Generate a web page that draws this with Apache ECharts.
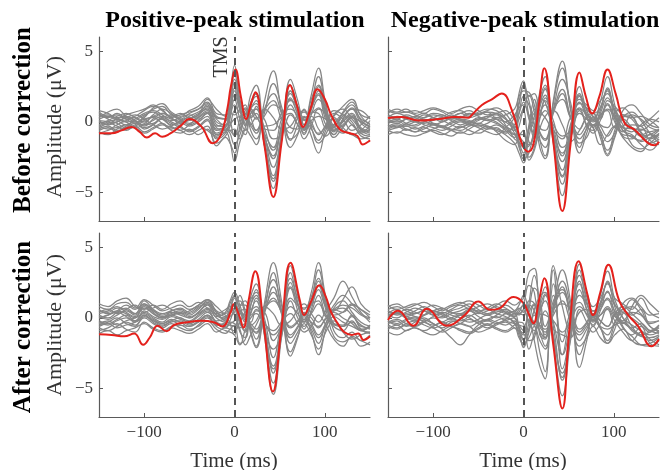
<!DOCTYPE html>
<html><head><meta charset="utf-8">
<script src="https://cdn.jsdelivr.net/npm/echarts@6/dist/echarts.min.js"></script>
<style>html,body{margin:0;padding:0;background:#fff}#c{width:662px;height:470px}</style>
</head><body><div id="c"></div>
<script>
// shared time grid for the individual (gray) traces, ms
const times = [-150,-140,-130,-120,-110,-100,-90,-80,-70,-60,-50,-40,-30,-20,-10,-5,0,6,12,18,24,33,43,52,62,70,77,85,93,101,110,120,130,140,150];

// ---- Before correction, positive-peak stimulation (gray traces)
const grayTL = [
[0.5,0.3,0.6,0.2,-0.1,0.4,0.9,1.1,0.5,0.2,0.6,0.9,1.4,0.3,0.2,1.8, 4.0,1.6,0.4,1.9,2.6,-1.4,-4.7,-1.3,3.0,1.5,-0.2,1.9,3.8,1.3,-0.4,0.6,1.2,0.1,-0.3],
[-0.3,-0.5,-0.2,0.1,0.3,-0.1,0.4,0.2,-0.3,-0.6,-0.2,0.3,0.8,-0.4,-0.6,1.0, 3.5,1.2,-0.1,1.3,2.0,-1.6,-4.2,-0.8,2.6,1.0,-0.6,1.2,3.2,1.1,-0.7,0.0,0.5,-0.6,-0.9],
[0.8,0.6,0.3,0.5,0.7,0.9,1.2,0.8,0.4,0.6,0.3,0.5,1.6,0.9,0.4,1.6, 3.0,1.4,0.5,1.0,1.5,-1.2,-3.8,-0.9,2.2,0.8,-0.5,1.6,2.6,0.6,-0.9,0.2,1.0,0.2,-0.1],
[-0.6,-0.4,-0.7,-0.3,0.0,-0.5,-0.2,0.3,0.0,-0.3,-0.7,-0.4,0.1,-1.2,-0.8,0.2, 2.4,0.8,-0.3,1.2,1.8,-0.8,-3.2,-1.1,1.7,0.5,-0.8,0.9,2.0,0.4,-1.1,-0.4,0.3,-0.8,-1.0],
[0.2,0.4,0.1,-0.2,0.2,0.6,0.8,0.5,0.1,0.3,0.5,0.2,0.6,-0.3,0.0,0.9, 2.2,1.1,0.6,0.4,1.1,-1.0,-2.6,-0.2,2.0,0.9,0.1,1.0,1.9,0.2,-0.2,0.7,1.4,0.5,0.3],
[-0.2,0.1,0.4,0.6,0.3,0.0,0.5,0.9,0.6,0.1,-0.1,0.4,1.0,0.2,-0.3,0.5, 1.6,0.2,-0.6,0.9,1.3,-0.4,-2.0,-0.6,1.2,0.2,-0.9,0.5,1.6,0.8,-0.6,-0.2,0.4,-0.5,-0.7],
[0.6,0.2,-0.1,-0.4,-0.2,0.2,0.3,-0.1,-0.5,-0.2,0.2,0.6,0.9,-0.6,-0.4,0.4, 1.2,0.7,0.9,0.3,0.6,-0.8,-1.8,0.2,1.5,1.1,0.3,0.6,1.0,-0.2,-0.9,0.2,0.9,0.8,0.2],
[-0.8,-0.6,-0.4,-0.6,-0.3,-0.7,-0.4,-0.1,-0.6,-0.8,-0.5,-0.9,-0.5,-1.5,-1.0,-0.3, 0.8,-0.3,-0.9,0.6,0.9,0.2,-1.2,-0.9,0.5,-0.2,-1.2,-0.3,0.9,0.6,-0.3,-0.8,-0.2,-1.0,-1.2],
[0.3,0.7,0.9,0.4,0.0,0.3,1.0,1.3,0.7,0.4,0.8,1.1,1.7,0.6,0.5,0.6, 0.5,0.9,1.2,-0.2,0.3,-0.5,-0.6,0.6,0.9,0.4,-0.4,0.7,0.6,-0.4,0.4,1.1,1.6,0.4,-0.2],
[0.0,-0.2,0.2,0.0,-0.4,-0.2,0.1,0.4,0.2,0.0,-0.3,0.0,0.4,-0.8,-0.6,-0.6, -0.5,-1.2,-0.4,0.8,0.2,0.9,0.3,-0.5,-0.3,0.5,0.8,-0.2,-0.8,-0.3,0.6,0.2,-0.6,-0.2,0.4],
[-0.4,-0.1,0.0,0.3,0.5,0.2,-0.2,-0.5,-0.3,0.1,0.3,-0.2,-0.6,-1.0,-0.5,-0.6, -1.0,0.2,1.0,0.3,-0.6,0.4,1.2,0.8,-0.4,-0.5,0.3,0.4,-0.5,-1.0,-0.2,0.5,0.0,-0.8,-0.5],
[0.4,0.5,0.2,0.0,0.1,0.5,0.7,0.3,-0.2,0.0,0.4,0.7,1.1,-0.2,-0.4,-0.8, -1.6,-0.9,0.1,-0.3,-0.8,0.9,2.0,0.6,-1.2,-0.8,0.2,-0.5,-1.3,-0.4,0.3,-0.4,-0.9,-0.6,0.1],
[-0.7,-0.9,-0.5,-0.2,-0.4,-0.8,-0.5,-0.2,-0.4,-0.6,-0.9,-0.6,-0.3,-1.7,-1.1,-1.5, -2.2,-0.3,0.8,-0.6,-1.2,0.6,2.7,1.1,-1.3,-0.2,0.9,-0.4,-1.5,-0.9,0.5,0.9,0.2,-0.5,-0.8],
[0.1,0.0,-0.3,-0.5,-0.3,0.1,0.4,0.6,0.3,-0.1,0.1,0.3,0.7,-0.9,-0.7,-1.4, -2.8,-1.4,-0.5,-1.0,-1.6,1.4,3.6,0.7,-1.8,-0.9,0.4,-1.0,-2.2,-0.6,0.2,-0.6,-0.9,-1.2,-1.0],
[0.1,-0.2,0.0,0.3,0.1,-0.3,0.2,0.6,0.3,-0.1,0.2,0.5,1.2,0.0,-0.2,1.1, 2.8,1.0,-0.2,1.4,2.0,-1.6,-4.0,-1.4,2.2,1.0,-0.6,1.1,2.5,0.9,-0.6,0.1,0.6,-0.4,-0.6],
[-0.5,-0.3,-0.6,-0.4,-0.1,-0.4,-0.2,0.2,-0.1,-0.4,-0.6,-0.3,0.2,-1.1,-0.7,-0.2, 0.2,0.4,0.6,0.9,0.4,-0.3,-0.2,0.3,0.6,-0.2,-0.5,0.1,0.4,0.2,-0.5,-0.3,0.3,0.0,-0.4],
[0.7,0.4,0.5,0.2,0.4,0.8,1.1,0.9,0.3,0.5,0.7,0.9,1.3,0.4,0.2,0.0, -0.9,-0.6,0.4,-0.1,-0.6,0.8,1.5,0.2,-0.8,0.3,0.7,0.0,-0.9,-0.2,0.8,0.5,-0.2,-0.7,-0.3],
[-0.3,0.0,0.2,0.4,0.1,-0.2,-0.1,0.3,0.5,0.2,-0.2,0.1,0.6,-0.5,-0.3,0.8, 1.9,0.9,0.2,0.6,0.9,-1.0,-2.4,-0.4,1.6,0.6,-0.2,0.9,2.2,0.5,-0.3,0.4,0.9,-0.1,-0.5]
];
// ---- Before correction, negative-peak stimulation
const grayTR = [
[0.5,0.3,0.4,0.2,0.5,0.3,0.0,0.3,0.6,0.4,0.7,0.9,0.8,0.3,-0.8,-1.6, -2.6,-2.2,-0.3,2.1,3.2,-1.3,-5.2,-1.4,2.5,0.8,0.1,1.4,3.2,1.2,-0.6,-0.9,-1.4,-1.1,-0.9],
[-0.2,-0.4,-0.1,0.1,-0.2,-0.4,-0.6,-0.3,0.0,-0.2,0.1,0.4,0.5,-0.2,-1.2,-1.4, -1.8,-1.7,-0.6,1.6,2.6,-1.5,-4.4,-0.7,2.0,0.9,0.6,1.0,2.4,0.6,-0.7,-0.2,-0.3,-1.3,-1.6],
[0.8,0.6,0.7,0.5,0.3,0.5,0.4,0.7,0.8,0.5,0.6,0.8,1.0,0.6,-0.2,1.2, 2.6,0.4,-0.9,1.2,2.3,-0.9,-3.9,-1.2,1.8,0.4,-0.3,0.8,2.2,0.9,0.1,-0.4,-0.6,-0.2,0.3],
[0.0,0.2,-0.1,-0.3,0.0,0.2,0.1,-0.2,-0.4,-0.1,0.3,0.2,0.0,-0.5,-0.9,-0.3, 0.8,-1.4,-1.6,1.0,1.9,-1.2,-3.4,-0.4,1.6,1.2,0.8,1.5,2.0,0.2,-1.0,-1.2,-0.5,-0.8,-1.3],
[-0.5,-0.3,-0.6,-0.4,-0.7,-0.5,-0.3,-0.6,-0.8,-0.5,-0.2,-0.4,-0.6,-0.9,-1.5,-2.2, -2.9,-1.0,0.4,1.6,1.4,-0.8,-2.8,-0.9,1.4,0.3,-0.4,0.6,1.7,0.8,-0.2,-1.6,-1.9,-1.5,-0.9],
[0.3,0.6,0.4,0.1,0.3,0.6,0.5,0.2,0.3,0.6,0.4,0.1,0.3,0.0,-0.4,0.6, 1.8,1.2,0.2,0.6,1.7,-0.4,-2.4,-0.2,1.3,1.0,0.4,0.2,1.5,1.1,0.5,0.3,0.4,0.1,-0.4],
[-0.6,-0.8,-0.5,-0.7,-0.4,-0.7,-0.9,-0.6,-0.3,-0.6,-0.8,-0.5,-0.2,-0.6,-1.1,-0.9, -0.9,-2.5,-1.8,0.2,1.5,0.1,-1.8,-1.1,0.8,-0.2,-0.8,0.1,1.2,0.0,-0.9,-1.0,-1.6,-2.0,-1.4],
[0.2,0.0,0.2,0.4,0.6,0.3,0.2,0.5,0.2,0.0,-0.1,0.3,0.6,0.8,0.2,2.0, 2.9,1.8,2.0,0.8,0.3,-0.6,-1.2,0.3,0.9,-0.3,-0.6,0.5,0.8,-0.4,-0.3,0.5,0.2,-0.4,-0.6],
[-0.9,-0.7,-0.9,-1.0,-0.8,-0.6,-0.8,-1.0,-0.7,-0.9,-0.6,-0.3,-0.7,-1.3,-1.6,-1.0, -0.6,-2.7,-2.0,-0.5,0.4,0.8,-0.2,-1.4,-0.6,0.2,-0.4,-1.6,-0.9,-0.3,-1.1,-1.8,-2.1,-1.2,-0.6],
[0.6,0.9,0.7,0.8,0.6,0.9,0.7,0.4,0.6,0.8,0.5,0.7,0.3,0.5,0.9,1.8, 2.2,2.1,1.2,-0.4,-0.6,0.9,1.6,0.3,-0.5,0.4,0.6,-0.2,-0.4,0.6,1.0,0.4,-0.3,0.2,0.8],
[-0.1,0.1,-0.2,0.0,0.2,-0.1,-0.3,0.0,0.2,0.1,-0.2,-0.5,-0.4,-0.8,-0.3,-1.4, -2.2,-0.6,0.9,-0.7,-1.2,0.8,2.3,0.4,-1.2,-0.5,0.2,-0.6,-1.4,-0.8,0.4,0.2,-0.8,-1.5,-1.2],
[-0.4,-0.2,-0.5,-0.7,-0.5,-0.2,-0.4,-0.6,-0.4,-0.2,-0.4,-0.7,-0.9,-0.4,0.3,1.4, 2.6,1.5,-0.3,-1.3,-1.8,0.9,3.0,1.4,-1.5,-1.1,-0.2,-0.9,-2.0,-1.0,0.3,0.7,0.1,-0.8,-1.5],
[0.9,0.7,0.9,0.6,0.8,1.0,0.8,0.6,0.9,1.1,0.8,0.5,0.6,0.2,-0.4,-1.8, -2.4,-0.2,1.6,-1.2,-2.4,1.3,3.8,1.0,-1.8,-0.4,0.6,-0.7,-2.3,-0.6,0.8,1.2,0.6,-0.2,-0.4],
[0.1,-0.1,0.2,0.4,0.1,-0.2,0.0,0.3,0.1,-0.1,0.2,0.4,0.2,-0.3,-0.6,0.2, 1.0,1.9,0.7,-1.8,-2.6,1.5,4.3,0.9,-2.2,-0.8,0.4,-1.1,-2.4,-1.1,0.5,0.4,-0.7,-1.2,-0.8],
[0.4,0.2,0.5,0.3,0.1,0.3,0.5,0.2,0.4,0.3,0.5,0.7,0.6,0.2,-0.5,-1.0, -1.4,-1.6,-0.8,1.3,2.4,-1.2,-3.8,-0.9,1.9,0.6,0.2,1.0,2.3,0.8,-0.4,-0.5,-0.9,-0.7,-0.6],
[-0.3,-0.1,-0.3,-0.2,0.0,-0.2,-0.4,-0.1,0.1,-0.1,-0.3,-0.1,0.2,0.0,0.5,1.0, 1.2,0.5,-0.4,0.3,0.8,-0.2,-1.0,-0.6,0.6,0.2,-0.2,0.3,0.9,0.4,-0.4,-0.7,-0.2,0.2,0.0],
[0.2,0.4,0.2,0.0,-0.1,0.1,0.3,0.1,-0.2,0.0,0.2,0.1,-0.1,-0.4,-0.9,-1.2, -1.6,-0.4,0.6,-0.8,-1.3,0.6,2.0,0.3,-0.9,-0.2,0.3,-0.3,-1.0,-0.3,0.2,-0.4,-1.0,-0.9,-0.5],
[-0.6,-0.4,-0.3,-0.5,-0.3,-0.1,-0.3,-0.5,-0.6,-0.3,-0.1,-0.3,-0.5,-0.7,-0.2,0.6, 1.4,0.2,-1.2,0.6,1.2,-0.8,-2.2,-0.9,1.0,0.5,0.0,0.4,1.3,0.3,-0.6,-1.1,-1.3,-0.9,-1.1]
];
// ---- After correction, positive-peak stimulation
const grayBL = [
[0.2,0.0,0.4,0.7,0.3,1.2,0.6,0.1,0.3,0.5,0.2,0.6,1.2,0.4,-0.2,0.6, 1.4,-0.3,-0.9,1.5,2.4,-1.2,-5.4,-1.3,3.7,1.6,0.2,1.8,3.9,1.5,-0.4,-0.6,0.2,-0.8,-1.1],
[-0.5,-0.3,0.0,-0.4,-0.6,0.2,-0.3,-0.6,-0.2,0.0,-0.4,-0.1,0.4,-0.3,-0.7,-0.2, 0.6,-1.0,-1.4,0.9,2.0,-0.9,-4.6,-1.1,3.2,1.1,-0.3,1.2,3.4,1.2,-0.9,-1.4,-1.0,-1.6,-1.2],
[0.8,0.6,1.0,1.1,0.7,1.3,0.9,0.5,0.7,0.9,0.6,0.9,1.3,0.8,0.3,1.0, 1.6,0.6,0.2,1.3,1.8,-0.4,-3.9,-0.4,2.8,1.4,0.6,1.5,2.8,1.1,0.2,0.4,1.0,0.6,0.2],
[-0.9,-0.7,-0.4,-0.8,-1.0,-0.3,-0.7,-0.9,-0.6,-0.5,-0.8,-0.6,-0.2,-0.8,-1.1,-0.8, -0.5,-1.8,-1.5,0.4,1.2,-1.1,-3.6,-1.4,2.1,0.5,-0.8,0.6,2.3,0.6,-1.3,-1.7,-1.4,-2.0,-1.7],
[0.3,0.5,0.8,0.4,0.1,0.7,0.3,0.0,0.5,0.7,0.4,0.8,1.0,0.2,0.0,0.4, 0.9,0.4,-0.3,0.3,1.4,0.0,-2.8,-0.2,2.2,1.0,0.2,0.9,2.0,0.8,0.5,1.3,2.2,1.0,0.4],
[-0.2,-0.4,-0.1,0.2,-0.2,0.4,0.0,-0.3,0.1,-0.1,-0.3,0.1,0.5,-0.4,-0.6,-0.5, -0.6,0.8,1.2,0.6,0.8,-0.8,-2.2,-1.2,1.2,0.0,-0.6,0.4,1.6,0.2,-0.6,-0.9,-0.2,-0.9,-0.5],
[0.6,0.3,0.5,0.9,0.6,1.0,0.5,0.2,0.4,0.2,0.0,0.4,0.9,0.1,0.4,1.2, 1.8,0.9,-0.2,-0.3,0.5,0.4,-1.6,-0.6,1.4,0.9,0.7,1.0,1.2,0.1,0.9,1.6,1.0,0.3,0.0],
[-0.7,-0.9,-0.6,-0.3,-0.5,0.0,-0.4,-0.7,-0.4,-0.7,-0.9,-0.5,0.0,-0.6,-0.9,-1.0, -1.2,-1.9,-0.8,0.0,0.3,-0.4,-0.9,-0.3,0.3,-0.4,-1.0,-0.6,0.2,-0.5,-1.5,-2.0,-1.3,-1.6,-1.9],
[0.0,0.2,0.4,0.1,-0.2,0.5,0.1,-0.1,0.2,0.4,0.1,0.3,0.7,0.0,-0.3,0.1, 0.4,1.6,0.5,-0.5,-0.2,0.8,0.3,-0.5,-0.2,0.6,1.0,0.3,-0.3,0.5,1.4,2.6,1.5,0.4,-0.3],
[1.0,0.8,1.2,1.4,0.8,0.6,0.9,0.6,1.0,1.2,0.8,1.1,0.7,0.3,0.6,0.8, 0.2,-0.8,-1.9,-1.2,-0.5,0.6,1.2,0.5,-0.6,-0.2,0.4,-0.3,-0.6,-0.1,0.4,0.0,-0.4,-0.9,-0.6],
[-0.4,-0.2,-0.5,-0.2,0.0,0.3,-0.1,-0.4,-0.2,-0.5,-0.6,-0.2,0.2,-0.5,-0.3,0.4, 1.0,1.2,0.2,-0.7,-1.0,0.5,1.8,0.6,-1.2,-0.6,0.2,-0.4,-1.2,-0.4,0.5,0.7,0.2,-0.5,-0.8],
[0.4,0.6,0.3,0.6,0.9,0.4,0.7,0.9,0.6,0.3,0.5,0.9,1.3,0.5,0.2,-0.4, -1.2,0.4,0.6,-0.6,-1.5,0.8,2.7,0.9,-1.8,-1.0,-0.2,-0.8,-1.8,-0.4,0.6,0.4,0.9,0.6,0.0],
[-1.1,-0.9,-1.2,-0.9,-0.7,-0.4,-0.8,-1.0,-0.7,-0.9,-1.1,-0.8,-0.4,-1.0,-0.7,-0.8, -0.9,-0.3,0.4,-1.1,-2.1,0.4,3.2,0.4,-2.4,-1.3,-0.4,-1.2,-2.2,-1.0,-0.2,-1.0,-1.5,-1.2,-1.0],
[0.1,-0.1,0.2,0.5,0.2,0.8,0.3,0.0,0.2,0.0,-0.2,0.2,0.6,-0.2,0.0,0.6, 1.5,0.9,0.9,-0.9,-2.0,1.0,3.9,1.2,-2.7,-1.4,0.1,-1.0,-2.6,-0.8,0.7,1.2,0.4,-0.3,-0.6],
[0.0,0.2,0.5,0.3,0.0,0.9,0.4,0.0,0.2,0.3,0.0,0.4,1.0,0.2,-0.1,0.3, 0.7,-0.4,-1.0,0.9,1.6,-0.8,-3.4,-0.9,2.5,0.9,-0.1,1.0,2.6,0.9,-0.4,-0.5,0.1,-0.6,-0.7],
[-0.3,-0.5,-0.2,0.0,-0.3,0.1,-0.2,-0.5,-0.3,-0.2,-0.5,-0.3,0.2,-0.3,-0.5,-0.4, -0.2,0.3,0.2,0.2,0.6,-0.3,-1.2,-0.5,0.8,0.3,-0.3,0.3,1.0,0.2,-0.5,-0.6,-0.3,-0.8,-0.7],
[0.5,0.4,0.7,0.6,0.3,1.0,0.6,0.3,0.5,0.6,0.3,0.7,1.1,0.4,0.1,0.6, 0.9,0.5,0.0,-0.4,-0.8,0.5,1.4,0.4,-0.7,-0.3,0.3,0.0,-0.7,0.0,0.6,0.9,0.7,0.2,-0.1],
[-0.6,-0.4,-0.7,-0.5,-0.3,0.2,-0.2,-0.4,-0.1,-0.3,-0.6,-0.3,0.1,-0.5,-0.4,-0.3, -0.4,-0.7,-0.4,-0.6,-1.1,0.3,2.2,0.3,-1.4,-0.7,-0.1,-0.6,-1.4,-0.6,0.1,-0.3,-0.6,-0.9,-1.0]
];
// ---- After correction, negative-peak stimulation
const grayBR = [
[0.3,0.6,0.2,0.5,0.8,0.4,0.1,0.5,0.7,1.0,0.6,0.3,0.6,0.9,0.5,0.2, 0.6,-0.4,-0.9,1.0,2.2,-1.6,-5.5,-1.4,3.4,1.2,0.0,1.6,3.3,1.3,0.0,-0.8,-1.2,-1.6,-1.3],
[-0.4,-0.2,-0.6,-0.3,0.0,-0.4,-0.7,-0.3,-0.1,0.2,-0.2,-0.5,-0.2,0.0,-0.4,-1.2, -2.0,-0.8,0.6,1.5,1.8,-0.6,-4.4,-0.6,3.0,1.5,0.5,1.0,2.6,0.8,-0.6,-1.2,-0.6,-1.8,-2.0],
[0.8,1.0,0.7,0.9,1.1,0.8,0.5,0.8,1.0,1.2,0.9,0.6,0.9,1.2,0.9,1.1, 1.4,3.2,3.5,0.2,-1.2,2.4,-3.6,-0.8,3.8,1.8,0.8,1.4,2.4,1.4,1.0,0.6,1.4,0.4,0.0],
[-0.8,-0.5,-0.9,-0.6,-0.3,-0.7,-1.0,-0.7,-0.4,-0.6,-1.0,-0.8,-0.5,-0.3,-0.7,-0.9, -1.1,-1.6,-1.4,0.4,1.2,-1.4,-3.9,-1.6,2.0,0.6,-0.6,0.5,1.9,0.4,-0.7,-1.3,-1.9,-2.0,-1.6],
[0.1,0.3,0.0,-0.2,0.2,0.5,0.2,-0.1,0.2,0.5,0.1,-0.2,0.2,0.5,0.1,0.4, 0.9,0.2,-0.4,-2.4,-3.8,3.4,-2.6,0.2,2.4,0.6,-0.3,0.9,1.8,0.9,0.4,0.0,-0.5,-1.0,-0.7],
[-0.2,-0.5,-0.2,0.1,-0.1,-0.4,-0.8,-1.4,-1.9,-1.2,-0.5,-0.2,-0.4,-0.1,0.3,-0.6, -1.5,-0.4,0.9,0.6,1.6,-0.3,-2.6,-0.6,1.6,1.0,0.3,0.6,1.4,0.5,-0.2,0.4,0.2,-0.6,-1.0],
[0.5,0.2,0.4,0.7,0.5,0.2,0.3,0.6,0.9,0.6,0.3,0.5,0.8,0.4,0.2,0.6, 1.0,2.3,1.8,-1.2,-1.5,1.6,-1.7,0.4,1.1,0.2,-0.5,0.8,1.3,0.2,-0.4,0.8,1.6,1.0,0.4],
[-0.6,-0.8,-0.5,-0.7,-0.9,-0.6,-0.3,-0.6,-0.8,-1.0,-0.7,-0.4,-0.7,-0.9,-0.5,-0.3, -0.4,-2.2,-1.1,-0.4,0.5,-0.8,-1.2,-1.4,0.6,-0.3,-1.0,-0.4,0.7,-0.2,-1.0,-1.6,-1.0,-1.5,-1.9],
[0.2,0.0,0.3,0.1,-0.2,0.1,0.4,0.2,0.0,-0.3,-0.1,0.2,0.0,0.3,0.5,0.9, 1.6,0.3,-1.6,-3.4,-4.3,3.7,0.8,-0.8,0.4,0.6,-0.2,0.2,0.6,-0.5,0.3,1.3,0.6,-0.4,-0.2],
[0.6,0.8,0.5,0.3,0.6,0.9,0.7,0.4,0.2,0.5,0.8,1.0,0.7,0.4,0.0,-0.5, -0.9,0.6,2.1,1.4,-0.6,0.6,1.0,0.6,-0.8,-0.3,0.5,-0.2,-0.6,0.3,0.8,0.3,-0.3,-0.9,-0.5],
[-0.3,-0.1,-0.4,-0.6,-0.3,0.0,-0.3,-0.6,-0.4,-0.1,-0.4,-0.7,-0.4,-0.2,0.0,-0.8, -2.1,-1.0,0.4,-0.9,-1.4,1.2,2.0,0.5,-1.6,-0.8,0.0,-0.7,-1.2,-0.3,0.4,-0.6,-1.2,-1.0,-0.6],
[0.0,0.3,0.1,-0.1,0.2,0.5,0.3,0.0,-0.2,0.1,0.4,0.6,0.3,0.1,-0.3,-1.0, -1.6,1.0,3.0,1.1,-1.4,0.8,2.6,0.8,-2.6,-1.2,0.1,-0.7,-1.6,-0.4,1.0,1.4,0.8,0.2,0.3],
[0.9,0.6,0.8,1.0,0.7,0.4,0.6,0.9,1.1,0.8,0.5,0.7,1.0,0.7,0.4,0.7, 0.4,0.9,0.5,-1.0,-2.0,0.9,3.4,1.2,-3.5,-1.6,0.3,-0.6,-1.8,-0.8,0.6,0.2,0.6,-0.6,-0.9],
[-1.0,-1.2,-0.9,-0.7,-1.0,-1.2,-0.9,-0.6,-0.9,-1.1,-0.8,-0.5,-0.8,-1.0,-0.7,-1.4, -1.8,-1.4,-0.6,-1.6,-2.2,0.4,2.2,0.0,-2.0,-1.4,-0.6,-1.4,-1.8,-1.2,-0.8,-1.6,-1.9,-1.8,-1.4],
[0.2,0.4,0.1,0.3,0.5,0.2,0.0,0.3,0.5,0.7,0.4,0.2,0.4,0.6,0.3,0.3, 0.5,-0.2,-0.5,0.8,1.7,-1.2,-4.2,-1.0,2.6,1.0,0.1,1.1,2.5,1.0,0.0,-0.5,-0.9,-1.2,-1.0],
[-0.2,-0.4,-0.1,0.0,-0.3,-0.5,-0.3,0.0,0.2,0.0,-0.3,-0.1,0.1,-0.2,-0.4,-0.5, -0.6,0.4,1.0,0.3,0.2,-0.2,-1.0,-0.2,0.8,0.3,-0.2,0.2,0.8,0.1,-0.3,-0.7,-0.4,-0.9,-1.1],
[0.5,0.3,0.6,0.4,0.2,0.5,0.7,0.4,0.3,0.6,0.4,0.2,0.5,0.3,0.1,0.3, 0.2,1.2,1.0,-0.6,-1.0,0.7,1.8,0.5,-1.0,-0.4,0.2,-0.2,-0.6,0.2,0.6,0.8,0.3,-0.3,-0.2],
[-0.5,-0.7,-0.4,-0.2,-0.5,-0.7,-0.5,-0.2,-0.4,-0.6,-0.3,-0.1,-0.3,-0.5,-0.2,-0.7, -1.2,-0.8,0.2,-0.5,-0.8,0.2,1.2,-0.2,-1.2,-0.6,-0.1,-0.6,-0.8,-0.5,-0.3,-0.9,-1.3,-1.4,-1.2]
];

// ---- red (average) traces: times and amplitudes
const redTL_t = [-150,-136,-125,-114,-105,-97,-88,-80,-72,-60,-50,-37,-24,-15,-8,-4,1,7,13,18,23,33,43,52,61.5,69,76,84,92,100,107,117,128,136,142,148,150];
const redTL_v = [-0.8,-0.8,-0.6,-0.35,-0.7,-1.1,-0.8,-1.05,-0.85,-0.3,0.2,-0.3,-1.5,-0.9,0.9,2.5,3.7,1.8,0.2,1.2,2.1,-1.6,-5.3,-1.5,2.6,1.2,-0.35,0.9,2.3,1.6,0.5,-0.55,-0.8,-1.0,-1.6,-1.4,-1.3];
const redTR_t = [-150,-135,-116,-94,-76,-61,-57,-46,-35,-24,-13,-2,5,11,17,23,33,43,52,62,69,76,84,93,102,112,123,138,145,150];
const redTR_v = [0.28,0.35,0.1,0.2,0.35,0.3,0.5,1.2,1.6,2.0,0.85,-1.5,-2.1,-1.6,1.2,3.8,-1.4,-6.3,-1.6,3.5,1.8,0.6,1.8,3.7,2.0,-0.1,-0.56,-1.5,-1.65,-1.4];
const redBL_t = [-150,-136,-122,-111,-101,-94,-85,-75,-67,-52,-37,-23,-13.5,-4,-1,5,10,15.5,23,32,42.5,52,62,72.5,77,85,94,101,107,114,121,130,137,143,150];
const redBL_v = [-1.16,-1.2,-1.3,-1.1,-1.9,-1.4,-0.55,-0.95,-0.5,-0.3,-0.2,-0.3,-0.6,0.45,0.97,0.2,-0.68,1.2,3.3,-0.3,-5.2,-0.7,3.9,1.2,0.2,1.2,2.3,1.5,0.4,-0.37,-0.97,-1.2,-1.1,-1.56,-1.3];
const redBR_t = [-150,-139,-122,-107,-85,-65,-50,-37,-28,-11,0,5,11,17,23,33,43,51,61,71,77,85,94,106,116,127,142,150];
const redBR_v = [-0.14,0.5,-0.55,0.64,-0.55,0.2,1.16,0.57,0.64,1.47,1.04,0.4,-0.38,1.2,2.8,-1.9,-6.4,-0.7,4.0,1.6,0.2,1.8,3.76,1.2,0.2,-0.6,-2.0,-1.5];

const xTicks = [-100, 0, 100];
const yTicks = [-5, 0, 5];
const titles = ['Positive-peak stimulation', 'Negative-peak stimulation'];
const rowLabels = ['Before correction', 'After correction'];

const panels = [
  {left: 99, top: 37, gray: grayTL, rt: redTL_t, rv: redTL_v, ylab: true, xlab: false},
  {left: 388, top: 37, gray: grayTR, rt: redTR_t, rv: redTR_v, ylab: false, xlab: false},
  {left: 99, top: 233, gray: grayBL, rt: redBL_t, rv: redBL_v, ylab: true, xlab: true},
  {left: 388, top: 233, gray: grayBR, rt: redBR_t, rv: redBR_v, ylab: false, xlab: true}
];
const W = 271, H = 184;
const AX = '#5a5a5a';
const FONT = '"Liberation Serif", "Times New Roman", serif';
const minus = v => (v < 0 ? '\u2212' + Math.abs(v) : String(v));

const grid = [], xAxis = [], yAxis = [], series = [];
panels.forEach((p, i) => {
  grid.push({left: p.left, top: p.top, width: W, height: H, containLabel: false});
  xAxis.push({
    type: 'value', gridIndex: i, min: -150, max: 150,
    axisLine: {show: true, onZero: false, lineStyle: {color: AX, width: 1.2}},
    axisTick: {show: true, inside: true, length: 4, customValues: xTicks, lineStyle: {color: AX}},
    axisLabel: {show: p.xlab, customValues: xTicks, formatter: minus, fontFamily: FONT, fontSize: 17, color: '#3a3a3a', margin: 7},
    splitLine: {show: false}
  });
  yAxis.push({
    type: 'value', gridIndex: i, min: -7, max: 6,
    axisLine: {show: true, onZero: false, lineStyle: {color: AX, width: 1.2}},
    axisTick: {show: true, inside: true, length: 4, customValues: yTicks, lineStyle: {color: AX}},
    axisLabel: {show: p.ylab, customValues: yTicks, formatter: minus, fontFamily: FONT, fontSize: 17, color: '#3a3a3a', margin: 6},
    splitLine: {show: false}
  });
  p.gray.forEach(tr => {
    series.push({
      type: 'line', xAxisIndex: i, yAxisIndex: i, showSymbol: false, smooth: 0.45,
      data: times.map((t, k) => [t, tr[k]]), silent: true, z: 2,
      lineStyle: {color: '#868686', width: 1.25}
    });
  });
  series.push({
    type: 'line', xAxisIndex: i, yAxisIndex: i, data: [], z: 3, silent: true,
    markLine: {silent: true, symbol: 'none', label: {show: false}, animation: false,
      lineStyle: {color: '#555', type: [7, 5], width: 2}, data: [{xAxis: 0}]}
  });
  series.push({
    type: 'line', xAxisIndex: i, yAxisIndex: i, showSymbol: false, smooth: 0.45,
    data: p.rt.map((t, k) => [t, p.rv[k]]), silent: true, z: 4,
    lineStyle: {color: '#e4211c', width: 2}
  });
});

const mid = {textAlign: 'center', textVerticalAlign: 'middle'};
const graphic = [
  {type: 'text', x: 235, y: 21, style: Object.assign({text: titles[0], font: 'bold 24px ' + FONT, fill: '#000'}, mid)},
  {type: 'text', x: 525, y: 21, style: Object.assign({text: titles[1], font: 'bold 24px ' + FONT, fill: '#000'}, mid)},
  {type: 'text', x: 24, y: 120, rotation: Math.PI / 2, style: Object.assign({text: rowLabels[0], font: 'bold 25px ' + FONT, fill: '#000'}, mid)},
  {type: 'text', x: 24, y: 327, rotation: Math.PI / 2, style: Object.assign({text: rowLabels[1], font: 'bold 25px ' + FONT, fill: '#000'}, mid)},
  {type: 'text', x: 55, y: 127, rotation: Math.PI / 2, style: Object.assign({text: 'Amplitude (\u03bcV)', font: '22px ' + FONT, fill: '#333'}, mid)},
  {type: 'text', x: 55, y: 325, rotation: Math.PI / 2, style: Object.assign({text: 'Amplitude (\u03bcV)', font: '22px ' + FONT, fill: '#333'}, mid)},
  {type: 'text', x: 234, y: 461, style: Object.assign({text: 'Time (ms)', font: '21px ' + FONT, fill: '#333'}, mid)},
  {type: 'text', x: 523, y: 461, style: Object.assign({text: 'Time (ms)', font: '21px ' + FONT, fill: '#333'}, mid)},
  {type: 'text', x: 222, y: 57, rotation: Math.PI / 2, z: 10, style: Object.assign({text: 'TMS', font: '20px ' + FONT, fill: '#333'}, mid)}
];

const chart = echarts.init(document.getElementById('c'), null, {renderer: 'canvas'});
chart.setOption({animation: false, backgroundColor: '#fff', grid, xAxis, yAxis, series, graphic});
</script></body></html>
